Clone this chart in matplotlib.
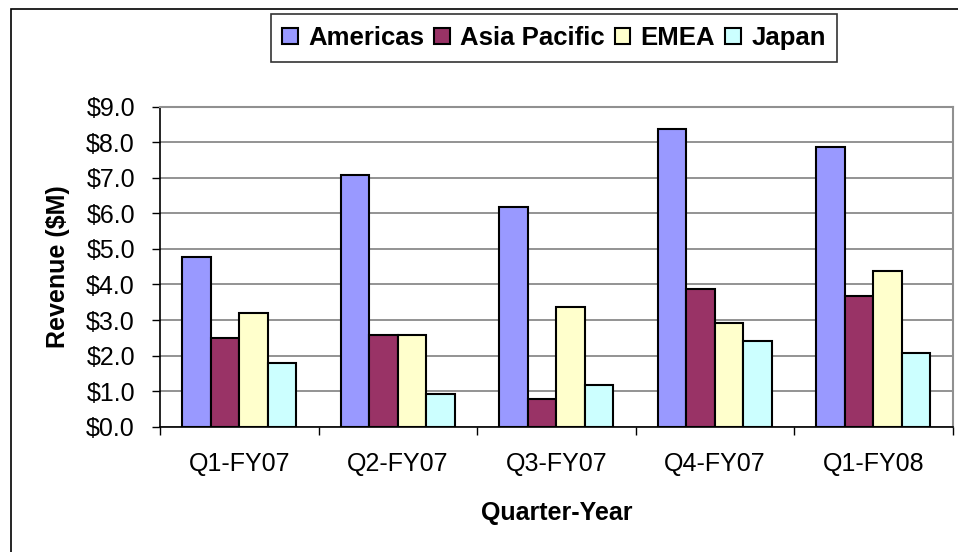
import matplotlib.pyplot as plt
import numpy as np
from matplotlib.patches import Rectangle

plt.rcParams['font.family'] = ['Liberation Sans', 'DejaVu Sans']

quarters = ["Q1-FY07", "Q2-FY07", "Q3-FY07", "Q4-FY07", "Q1-FY08"]
regions = ["Americas", "Asia Pacific", "EMEA", "Japan"]
americas = [4.78, 7.08, 6.18, 8.37, 7.86]
asia_pacific = [2.49, 2.58, 0.78, 3.87, 3.68]
emea = [3.21, 2.58, 3.37, 2.92, 4.38]
japan = [1.80, 0.91, 1.18, 2.42, 2.06]
colors = ["#9999FF", "#993366", "#FFFFCC", "#CCFFFF"]

series = [americas, asia_pacific, emea, japan]

fig = plt.figure(figsize=(9.58, 5.52), dpi=100)
ax = fig.add_axes([160 / 958, 1 - 426.7 / 552, 792.5 / 958, 320 / 552])

x = np.arange(len(quarters))
w = 0.18
for i, (name, vals, c) in enumerate(zip(regions, series, colors)):
    ax.bar(x + (i - 1.5) * w, vals, w, color=c, edgecolor="black",
           linewidth=1.5, label=name, zorder=3)

ax.set_xlim(-0.5, len(quarters) - 0.5)
ax.set_ylim(0, 9)
ax.set_yticks(np.arange(0, 9.5, 1.0))
ax.set_yticklabels([f"${v:.1f}" for v in np.arange(0, 9.5, 1.0)], fontsize=18)
ax.grid(axis="y", color="#808080", linewidth=1.2, zorder=0)

ax.set_xticks(x)
ax.set_xticklabels(quarters, fontsize=18)
ax.tick_params(axis="x", length=0, pad=18)
ax.set_xticks(np.arange(-0.5, len(quarters), 1.0), minor=True)
ax.tick_params(axis="x", which="minor", length=6, width=1, direction="out")
ax.tick_params(axis="y", length=6, width=1, direction="out", pad=12)

for s in ["top", "right"]:
    ax.spines[s].set_color("#909090")
    ax.spines[s].set_linewidth(1.5)
for s in ["left", "bottom"]:
    ax.spines[s].set_color("black")
    ax.spines[s].set_linewidth(1.2)

ax.set_ylabel("Revenue ($M)", fontsize=18, fontweight="bold", labelpad=12)
ax.set_xlabel("Quarter-Year", fontsize=18, fontweight="bold", labelpad=18)

leg = fig.legend(loc="center", bbox_to_anchor=(554 / 958, 1 - 38 / 552), ncol=4,
                 prop={"size": 18.5, "weight": "bold"}, frameon=True, fancybox=False,
                 edgecolor="black", handlelength=0.6, handleheight=0.6,
                 handletextpad=0.4, columnspacing=0.4, borderpad=0.45)
leg.get_frame().set_linewidth(1.2)

fig.patches.append(Rectangle((11 / 958, -0.05), 1.2, 1 - 9 / 552 + 0.05,
                             transform=fig.transFigure, fill=False,
                             edgecolor="black", linewidth=1.2))

fig.savefig("out.png", dpi=100)
